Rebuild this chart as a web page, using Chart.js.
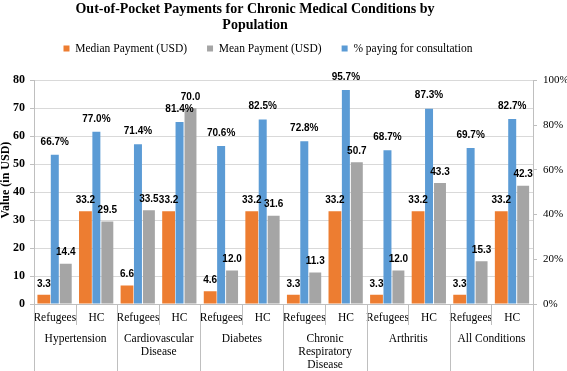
<!DOCTYPE html>
<html>
<head>
<meta charset="utf-8">
<script src="https://cdn.jsdelivr.net/npm/chart.js@4"></script>
<style>
html,body{margin:0;padding:0;background:#fff;}
#wrap{position:relative;width:567px;height:371px;}
</style>
</head>
<body>
<div id="wrap"><canvas id="c"></canvas></div>
<script>
const populations = ['Refugees','HC','Refugees','HC','Refugees','HC','Refugees','HC','Refugees','HC','Refugees','HC'];
const conditions = [['Hypertension'], ['Cardiovascular','Disease'], ['Diabetes'], ['Chronic','Respiratory','Disease'], ['Arthritis'], ['All Conditions']];
const medianPayment = [3.3, 33.2, 6.6, 33.2, 4.6, 33.2, 3.3, 33.2, 3.3, 33.2, 3.3, 33.2];
const meanPayment = [14.4, 29.5, 33.5, 70.0, 12.0, 31.6, 11.3, 50.7, 12.0, 43.3, 15.3, 42.3];
const pctConsultation = [66.7, 77.0, 71.4, 81.4, 70.6, 82.5, 72.8, 95.7, 68.7, 87.3, 69.7, 82.7];
const leftTicks = [0,10,20,30,40,50,60,70,80];
const rightTicks = [0,20,40,60,80,100];
const yAxisTitle = 'Value (in USD)';

const SERIF = '"Liberation Serif", "Times New Roman", serif';
const SANS = '"Liberation Sans", Arial, sans-serif';
const AXIS = '#BFBFBF';

const labelPlugin = {
  id: 'valueLabels',
  afterDatasetsDraw(chart) {
    const ctx = chart.ctx;
    ctx.save();
    ctx.font = 'bold 10px ' + SANS;
    ctx.fillStyle = '#000';
    ctx.textAlign = 'center';
    ctx.textBaseline = 'middle';
    chart.data.datasets.forEach((ds, di) => {
      const meta = chart.getDatasetMeta(di);
      const isPct = ds.yAxisID === 'y1';
      const off = isPct ? 13 : 11;
      meta.data.forEach((bar, i) => {
        const v = ds.data[i];
        const txt = v.toFixed(1) + (isPct ? '%' : '');
        ctx.fillText(txt, bar.x, bar.y - off);
      });
    });
    ctx.restore();
  }
};

const groupPlugin = {
  id: 'groupAxis',
  afterLayout(chart) {
    if (chart.titleBlock) { chart.titleBlock.right = chart.titleBlock.left + 510; }
    if (chart.legend) {
      chart.legend.right = chart.legend.left + 536;
      chart.legend.top -= 16;
      chart.legend.bottom -= 16;
    }
  },
  afterDraw(chart) {
    const x = chart.scales.x;
    const y = chart.scales.y;
    const ctx = chart.ctx;
    const bottom = chart.chartArea.bottom;
    const H = chart.height;
    const half = (x.getPixelForValue(1) - x.getPixelForValue(0)) / 2;
    ctx.save();
    ctx.strokeStyle = AXIS;
    ctx.lineWidth = 1;
    for (let g = 0; g < conditions.length; g++) {
      const left = Math.round(x.getPixelForValue(2 * g) - half) + 0.5;
      const mid = Math.round(x.getPixelForValue(2 * g) + half) + 0.5;
      ctx.beginPath();
      ctx.moveTo(left, bottom); ctx.lineTo(left, H);
      ctx.moveTo(mid, bottom); ctx.lineTo(mid, bottom + 21);
      ctx.stroke();
    }
    const last = Math.round(x.getPixelForValue(populations.length - 1) + half) + 0.5;
    ctx.beginPath(); ctx.moveTo(last, bottom); ctx.lineTo(last, H); ctx.stroke();
    ctx.fillStyle = '#000';
    ctx.font = '11.5px ' + SERIF;
    ctx.textAlign = 'center';
    ctx.textBaseline = 'middle';
    conditions.forEach((lines, g) => {
      const cx = x.getPixelForValue(2 * g) + half;
      lines.forEach((t, k) => ctx.fillText(t, cx, bottom + 35 + k * 13));
    });
    // left axis title, placed slightly above the axis centre as in the original
    ctx.font = 'bold 12px ' + SERIF;
    ctx.translate(6, (y.top + y.bottom) / 2 - 12);
    ctx.rotate(-Math.PI / 2);
    ctx.fillText(yAxisTitle, 0, 0);
    ctx.restore();
  }
};

const legendRank = {0: 0, 2: 1, 1: 2};

new Chart(document.getElementById('c'), {
  type: 'bar',
  data: {
    labels: populations,
    datasets: [
      { label: 'Median Payment (USD)', data: medianPayment, backgroundColor: '#ED7D31', yAxisID: 'y', barPercentage: 1.17, categoryPercentage: 0.79 },
      { label: '% paying for consultation', data: pctConsultation, backgroundColor: '#5B9BD5', yAxisID: 'y1', barPercentage: 0.73, categoryPercentage: 0.79 },
      { label: 'Mean Payment (USD)', data: meanPayment, backgroundColor: '#A5A5A5', yAxisID: 'y', barPercentage: 1.09, categoryPercentage: 0.79 }
    ]
  },
  options: {
    responsive: true,
    maintainAspectRatio: false,
    animation: false,
    devicePixelRatio: 1,
    layout: { padding: { left: 0, right: 0, top: 0, bottom: 0 } },
    plugins: {
      title: {
        display: true,
        text: ['Out-of-Pocket Payments for Chronic Medical Conditions by', 'Population'],
        color: '#000',
        font: { family: SERIF, size: 14, weight: 'bold', lineHeight: 1.1 },
        padding: { top: 2, bottom: 6 }
      },
      legend: {
        display: true,
        position: 'top',
        labels: {
          color: '#000',
          font: { family: SERIF, size: 11.5 },
          boxWidth: 6, boxHeight: 6,
          padding: 20,
          sort: (a, b) => legendRank[a.datasetIndex] - legendRank[b.datasetIndex]
        }
      },
      tooltip: { enabled: false }
    },
    scales: {
      x: {
        type: 'category',
        grid: { display: false, drawTicks: false },
        border: { display: true, color: AXIS },
        ticks: { color: '#000', font: { family: SERIF, size: 11.5 }, padding: 7, autoSkip: false, maxRotation: 0 },
        afterFit: s => { s.height = 67; }
      },
      y: {
        position: 'left',
        min: 0, max: 80,
        afterBuildTicks: s => { s.ticks = leftTicks.map(v => ({ value: v })); },
        grid: { color: '#D9D9D9', tickColor: AXIS, tickLength: 4 },
        border: { display: true, color: AXIS },
        ticks: { color: '#000', font: { family: SERIF, size: 12, weight: 'bold' }, padding: 5 },
        title: { display: false },
        afterFit: s => { s.width = 34; }
      },
      y1: {
        position: 'right',
        min: 0, max: 100,
        afterBuildTicks: s => { s.ticks = rightTicks.map(v => ({ value: v })); },
        grid: { drawOnChartArea: false, tickColor: AXIS, tickLength: 4 },
        border: { display: true, color: AXIS },
        ticks: { color: '#000', font: { family: SERIF, size: 11 }, padding: 6, callback: v => v + '%' },
        afterFit: s => { s.width = 34; }
      }
    }
  },
  plugins: [labelPlugin, groupPlugin]
});
</script>
</body>
</html>
